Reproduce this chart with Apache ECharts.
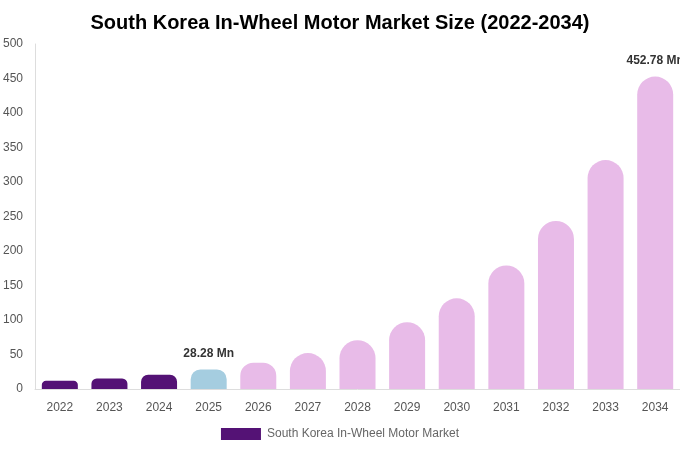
<!DOCTYPE html>
<html>
<head>
<meta charset="utf-8">
<script src="https://cdn.jsdelivr.net/npm/echarts@6/dist/echarts.min.js"></script>
<style>html,body{margin:0;padding:0;background:#fff}#c{width:680px;height:450px}</style>
</head>
<body>
<div id="c"></div>
<script>
const title = 'South Korea In-Wheel Motor Market Size (2022-2034)';
const seriesName = 'South Korea In-Wheel Motor Market';
const years = ['2022','2023','2024','2025','2026','2027','2028','2029','2030','2031','2032','2033','2034'];
const values = [12.0, 15.3, 20.7, 28.28, 38.0, 52.0, 70.8, 96.8, 131.5, 179.0, 243.6, 331.8, 452.78];
const labelledYears = ['2025','2034'];
const historicColor = '#541275';
const currentColor = '#a5cde0';
const forecastColor = '#e8bbe8';
const barW = 36;

function buildData(radii) {
  return values.map((v, i) => {
    const y = years[i];
    let color = forecastColor;
    if (+y < 2025) color = historicColor;
    else if (+y === 2025) color = currentColor;
    const r = radii ? radii[i] : barW / 2;
    return {
      value: v,
      itemStyle: { color: color, borderRadius: [r, r, 0, 0] },
      label: { show: labelledYears.includes(y) }
    };
  });
}

const chart = echarts.init(document.getElementById('c'));
chart.setOption({
  animation: false,
  textStyle: { fontFamily: '"Liberation Sans", Arial, sans-serif' },
  title: {
    text: title, left: 'center', top: 8,
    textStyle: { fontSize: 20, fontWeight: 'bold', color: '#000', fontFamily: '"Liberation Sans", Arial, sans-serif' }
  },
  legend: {
    bottom: 5, left: 'center',
    itemWidth: 40, itemHeight: 12, icon: 'rect', itemGap: 10,
    textStyle: { color: '#666', fontSize: 12, padding: [0, 0, 0, 1] },
    data: [{ name: seriesName, itemStyle: { color: historicColor } }]
  },
  grid: { left: 35, right: 0, top: 44, bottom: 61 },
  xAxis: {
    type: 'category', data: years,
    axisLine: { lineStyle: { color: '#ddd' } },
    axisTick: { show: false },
    axisLabel: { color: '#555', fontSize: 12, margin: 13 }
  },
  yAxis: {
    type: 'value', min: 0, max: 500, interval: 50,
    axisLine: { show: true, lineStyle: { color: '#ddd' } },
    splitLine: { show: false },
    axisLabel: { color: '#555', fontSize: 12, margin: 12 }
  },
  series: [{
    name: seriesName, type: 'bar', barWidth: barW,
    data: buildData(null),
    label: {
      position: 'top', distance: 10, color: '#333', fontWeight: 'bold', fontSize: 12,
      formatter: p => p.value + ' Mn'
    }
  }]
});

// Corner radius limited to half the drawn bar height (as in the reference)
const zeroPx = chart.convertToPixel({ yAxisIndex: 0 }, 0);
const radii = values.map(v => {
  const h = zeroPx - chart.convertToPixel({ yAxisIndex: 0 }, v);
  return Math.min(barW / 2, h / 2);
});
chart.setOption({ series: [{ data: buildData(radii) }] });
</script>
</body>
</html>
